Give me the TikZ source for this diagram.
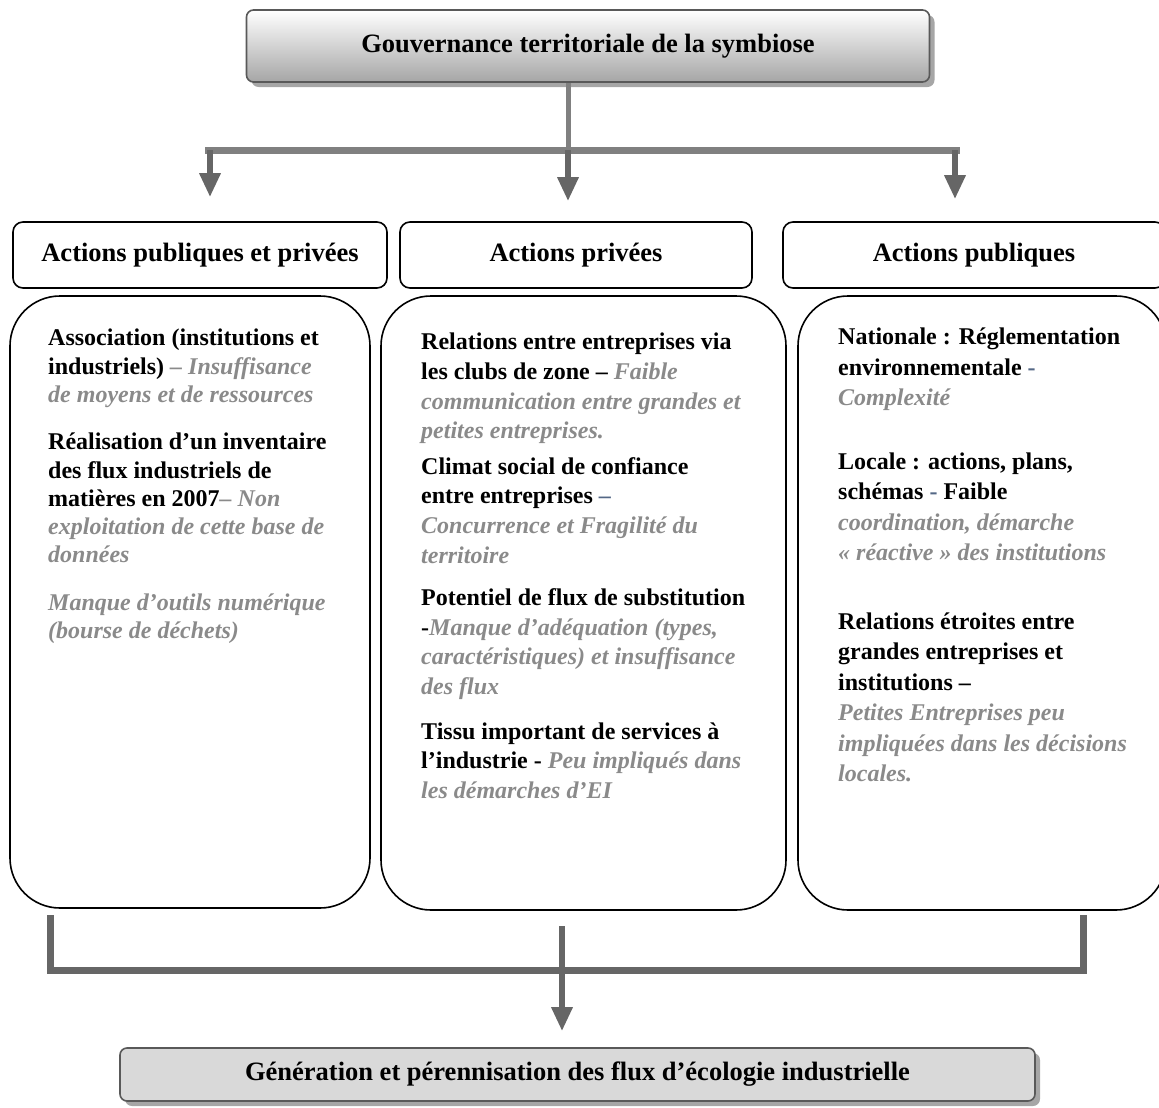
\documentclass[tikz,border=0pt]{standalone}
\usepackage{fontspec}
\setmainfont{Liberation Serif}
\usepackage{xcolor}
\usepackage{tikz}
\usetikzlibrary{arrows.meta,positioning,calc,shadows}
\definecolor{txtgray}{RGB}{138,138,138}
\definecolor{dashblue}{RGB}{84,104,134}
\definecolor{linkgray}{RGB}{128,128,128}
\definecolor{arrowgray}{RGB}{102,102,102}
\newcommand{\obst}[1]{{\color{txtgray}\itshape #1}}
\newcommand{\bdash}[1]{{\color{dashblue}#1}}

\begin{document}
\begin{tikzpicture}[x=1pt,y=-1pt,
  titlebox/.style={draw=black!65,line width=1.6pt,rounded corners=7pt,
    font=\fontsize{26.5}{30}\selectfont\bfseries,
    drop shadow={shadow xshift=5pt,shadow yshift=-5pt,fill=black!35,opacity=1}},
  header/.style={draw,line width=1.6pt,rounded corners=10pt,minimum height=66pt,
    font=\fontsize{26.5}{30}\selectfont\bfseries},
  panel/.style={draw,line width=1.6pt,rounded corners=50pt},
  bodytext/.style={anchor=north west,inner sep=0pt,align=left},
  feed/.style={line width=7pt,linkgray},
  arrowc/.style={line width=6pt,arrowgray,-{Triangle[length=24pt,width=20pt]}}]
  \useasboundingbox (0,0) rectangle (1159,1108);

  \node[titlebox,minimum width=683pt,minimum height=72pt,
    top color=white,bottom color=gray!70] (gov) at (588,46)
    {Gouvernance territoriale de la symbiose};

  \node[header,minimum width=374pt] (hl) at (200,255) {Actions publiques et privées};
  \node[header,minimum width=352pt] (hm) at (576,255) {Actions privées};
  \node[header,minimum width=382pt] (hr) at (974,255) {Actions publiques};

  \node[panel,minimum width=360pt,minimum height=612pt] (pl) at (190,602) {};
  \node[panel,minimum width=405pt,minimum height=614pt] (pm) at (583.5,603) {};
  \node[panel,minimum width=368pt,minimum height=614pt] (pr) at (982,603) {};

  \node[bodytext,font=\fontsize{24}{28.3}\selectfont\bfseries] (tl) at (48,329)
    {Association (institutions et\\
     industriels) \obst{– Insuffisance}\\
     \obst{de moyens et de ressources}\\[19pt]
     Réalisation d’un inventaire\\
     des flux industriels de\\
     matières en 2007\obst{– Non}\\
     \obst{exploitation de cette base de}\\
     \obst{données}\\[19pt]
     \obst{Manque d’outils numérique}\\
     \obst{(bourse de déchets)}};
  \node[bodytext,font=\fontsize{24}{29.6}\selectfont\bfseries] (tm) at (421,333)
    {Relations entre entreprises via\\
     les clubs de zone – \obst{Faible}\\
     \obst{communication entre grandes et}\\
     \obst{petites entreprises.}\\[6pt]
     Climat social de confiance\\
     entre entreprises \bdash{–}\\
     \obst{Concurrence et Fragilité du}\\
     \obst{territoire}\\[13pt]
     Potentiel de flux de substitution\\
     -\obst{Manque d’adéquation (types,}\\
     \obst{caractéristiques) et insuffisance}\\
     \obst{des flux}\\[15pt]
     Tissu important de services à\\
     l’industrie - \obst{Peu impliqués dans}\\
     \obst{les démarches d’EI}};
  \node[bodytext,font=\fontsize{24}{30.5}\selectfont\bfseries] (tr) at (838,328)
    {Nationale : Réglementation\\
     environnementale \bdash{-}\\
     \obst{Complexité}\\[33pt]
     Locale : actions, plans,\\
     schémas \bdash{-} Faible\\
     \obst{coordination, démarche}\\
     \obst{« réactive » des institutions}\\[38pt]
     Relations étroites entre\\
     grandes entreprises et\\
     institutions –\\
     \obst{Petites Entreprises peu}\\
     \obst{impliquées dans les décisions}\\
     \obst{locales.}};

  \node[titlebox,minimum width=915pt,minimum height=53pt,fill=gray!30] (gen)
    at (577.5,1074.5) {Génération et pérennisation des flux d’écologie industrielle};

  \coordinate (split) at (568,150);
  \coordinate (barL) at (205,150);
  \coordinate (barR) at (960,150);
  \coordinate (aL) at (210,150);
  \coordinate (aR) at (955,150);
  \draw[linkgray,line width=5pt] (gov.south -| split) -- (split);
  \draw[feed] (barL) -- (barR);
  \draw[arrowc] (aL) -- ([yshift=24pt]hl.north -| aL);
  \draw[arrowc] (split) -- ([yshift=20pt]hm.north -| split);
  \draw[arrowc] (aR) -- ([yshift=22pt]hr.north -| aR);

  \coordinate (legL) at (50,915);
  \coordinate (legR) at (1083,915);
  \coordinate (join) at (562,926);
  \draw[arrowgray,line width=7pt] (legL) -- (50,970) -- (1083,970) -- (legR);
  \draw[arrowc] (join) -- ([yshift=16pt]gen.north -| join);
\end{tikzpicture}
\end{document}
